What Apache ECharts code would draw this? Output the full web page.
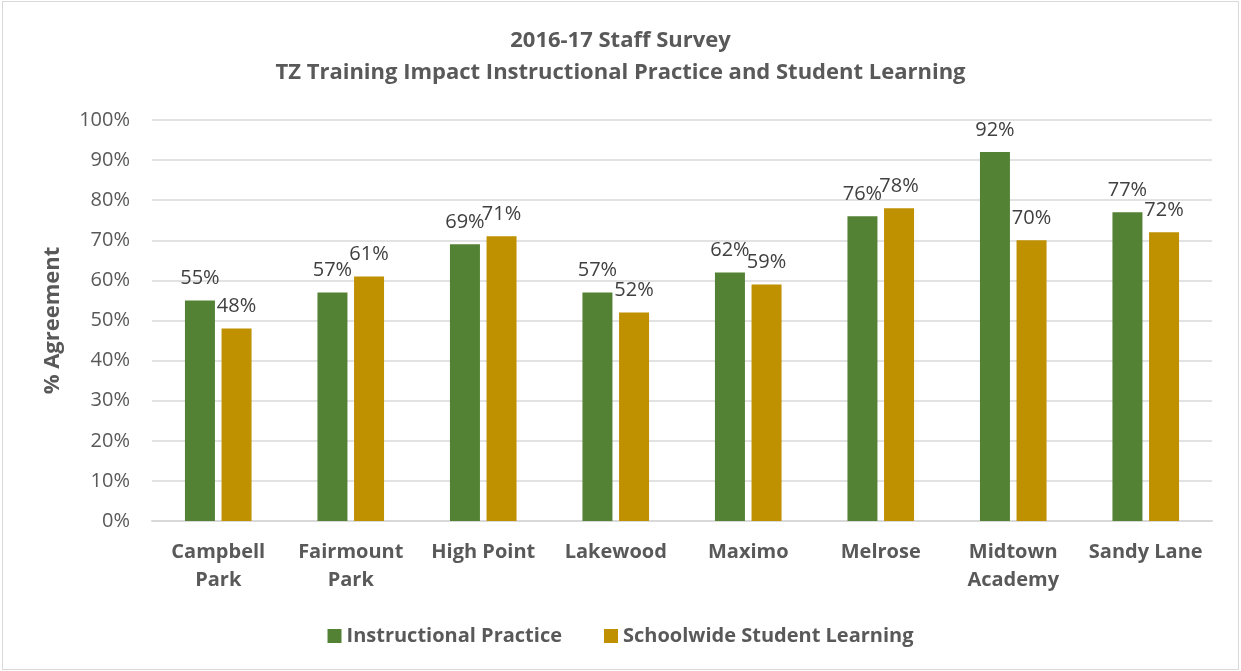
<!DOCTYPE html>
<html>
<head>
<meta charset="utf-8">
<script src="https://cdn.jsdelivr.net/npm/echarts@6/dist/echarts.min.js"></script>
<style>
  html, body { margin: 0; padding: 0; background: #fff; }
  #chart { width: 1241px; height: 671px; position: relative; }
  .frame { position: absolute; left: 2px; top: 1px; width: 1235px; height: 667px; border: 1px solid #D9D9D9; pointer-events: none; }
</style>
</head>
<body>
<div id="chart"></div>
<div class="frame"></div>
<script>
// schools on the x axis
const schools = ['Campbell\nPark', 'Fairmount\nPark', 'High Point', 'Lakewood', 'Maximo', 'Melrose', 'Midtown\nAcademy', 'Sandy Lane'];
// % agreement per school
const instructional = [55, 57, 69, 57, 62, 76, 92, 77];
const schoolwide = [48, 61, 71, 52, 59, 78, 70, 72];

const font = '"Open Sans", Lato, sans-serif';

const labelStyle = {
  show: true,
  position: 'top',
  distance: 12,
  fontFamily: font,
  fontSize: 20,
  color: '#404040',
  formatter: p => p.value + '%'
};

const option = {
  animation: false,
  textStyle: { fontFamily: font },
  title: {
    text: '2016-17 Staff Survey\nTZ Training Impact Instructional Practice and Student Learning',
    left: 'center',
    top: 20,
    textStyle: { fontFamily: font, fontSize: 22, fontWeight: 'bold', color: '#595959', lineHeight: 32 }
  },
  legend: {
    left: 'center',
    top: 621,
    itemWidth: 14,
    itemHeight: 14,
    itemGap: 42,
    icon: 'rect',
    textStyle: { fontFamily: font, fontSize: 20, fontWeight: 'bold', color: '#595959' }
  },
  grid: { left: 152, right: 29, top: 120, bottom: 150 },
  xAxis: {
    type: 'category',
    data: schools,
    axisLine: { lineStyle: { color: '#D9D9D9', width: 2 } },
    axisTick: { show: false },
    axisLabel: { interval: 0, fontFamily: font, fontSize: 20, fontWeight: 'bold', color: '#595959', lineHeight: 28, margin: 17 }
  },
  yAxis: {
    type: 'value',
    min: 0,
    max: 100,
    interval: 10,
    name: '% Agreement',
    nameLocation: 'middle',
    nameGap: 88,
    nameTextStyle: { fontFamily: font, fontSize: 22, fontWeight: 'bold', color: '#595959' },
    axisLine: { show: false },
    axisTick: { show: false },
    splitLine: { lineStyle: { color: '#D9D9D9', width: 1.5 } },
    axisLabel: { fontFamily: font, fontSize: 20, color: '#595959', margin: 22, formatter: '{value}%' }
  },
  series: [
    {
      name: 'Instructional Practice',
      type: 'bar',
      data: instructional,
      barWidth: 30,
      barGap: '22%',
      itemStyle: { color: '#548235' },
      label: labelStyle
    },
    {
      name: 'Schoolwide Student Learning',
      type: 'bar',
      data: schoolwide,
      barWidth: 30,
      itemStyle: { color: '#BF9000' },
      label: labelStyle
    }
  ]
};

echarts.init(document.getElementById('chart')).setOption(option);
</script>
</body>
</html>
